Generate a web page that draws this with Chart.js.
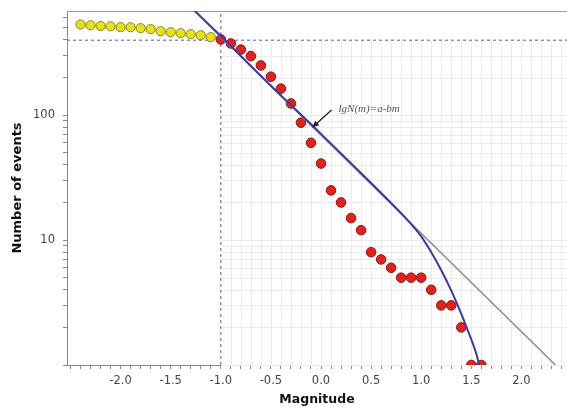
<!DOCTYPE html>
<html>
<head>
<meta charset="utf-8">
<title>Magnitude - frequency</title>
<script src="https://cdn.jsdelivr.net/npm/chart.js@4/dist/chart.umd.min.js"></script>
<style>
  html, body { margin: 0; padding: 0; background: #fff; overflow: hidden; }
  #gr { display: block; }
</style>
</head>
<body>
<canvas id="gr" width="567" height="408"></canvas>
<script>
// bins below the completeness magnitude (yellow)
const belowMag = [-2.4, -2.3, -2.2, -2.1, -2.0, -1.9, -1.8, -1.7, -1.6, -1.5, -1.4, -1.3, -1.2, -1.1];
const belowN = [532, 525, 518, 515, 506, 506, 497, 488, 470, 461, 453, 445, 436, 421];

// bins from Mc upward (red)
const aboveMag = [-1.0, -0.9, -0.8, -0.7, -0.6, -0.5, -0.4, -0.3, -0.2, -0.1, 0.0, 0.1, 0.2, 0.3,
  0.4, 0.5, 0.6, 0.7, 0.8, 0.9, 1.0, 1.1, 1.2, 1.3, 1.4, 1.5, 1.6];
const aboveN = [404, 375, 335, 297, 250, 203, 163, 124, 87, 60, 41, 25, 20, 15,
  12, 8, 7, 6, 5, 5, 5, 4, 3, 3, 2, 1, 1];

// straight G-R line lgN = a - bm (two ends)
const fitMag = [-1.4, 2.34];
const fitN = [873, 1];

// truncated fit (blue curve)
const curveMag = [-1.3, -1.0, -0.5, 0.0, 0.5, 0.7, 0.8, 0.9, 1.0, 1.1, 1.2, 1.3, 1.4, 1.5, 1.55, 1.58];
const curveN = [735, 430, 172, 70.8, 28.6, 19.8, 16.4, 13.4, 10.7, 7.98, 5.73, 3.94, 2.57, 1.6, 1.23, 1.0];

// completeness markers
const mcValue = -1.0;
const n0Value = 398;

const xTickLabels = [-2.0, -1.5, -1.0, -0.5, 0.0, 0.5, 1.0, 1.5, 2.0];
const yTickLabels = [10, 100];

const xRange = [-2.535, 2.455];
const yRange = [1, 682];

const toPoints = (xs, ys) => xs.map((v, i) => ({ x: v, y: ys[i] }));

// light grid only inside the "complete" region (m > Mc, N < N0)
const regionGrid = {
  id: 'regionGrid',
  beforeDatasetsDraw(chart) {
    const { ctx, chartArea: a, scales: { x, y } } = chart;
    const x0 = x.getPixelForValue(mcValue);
    const y0 = y.getPixelForValue(n0Value);
    ctx.save();
    ctx.strokeStyle = '#ebebeb';
    ctx.lineWidth = 1;
    ctx.beginPath();
    x.ticks.forEach(t => {
      if (t.value <= mcValue + 1e-6) return;
      const px = Math.round(x.getPixelForValue(t.value)) + 0.5;
      ctx.moveTo(px, y0);
      ctx.lineTo(px, a.bottom);
    });
    y.ticks.forEach(t => {
      if (t.value >= n0Value) return;
      const py = Math.round(y.getPixelForValue(t.value)) + 0.5;
      ctx.moveTo(x0, py);
      ctx.lineTo(a.right, py);
    });
    ctx.stroke();
    // top frame line
    ctx.strokeStyle = '#999';
    ctx.beginPath();
    ctx.moveTo(a.left, a.top + 0.5);
    ctx.lineTo(a.right, a.top + 0.5);
    ctx.stroke();
    ctx.restore();
  }
};

// "lgN(m)=a-bm" label with arrow onto the straight line
const fitLabel = {
  id: 'fitLabel',
  afterDatasetsDraw(chart) {
    const { ctx, scales: { x, y } } = chart;
    const hx = x.getPixelForValue(-0.085), hy = y.getPixelForValue(80);
    const tx = x.getPixelForValue(0.105), ty = y.getPixelForValue(110);
    ctx.save();
    ctx.strokeStyle = '#222';
    ctx.fillStyle = '#222';
    ctx.lineWidth = 1.3;
    ctx.beginPath();
    ctx.moveTo(tx, ty);
    ctx.lineTo(hx, hy);
    ctx.stroke();
    const ang = Math.atan2(hy - ty, hx - tx);
    ctx.beginPath();
    ctx.moveTo(hx, hy);
    ctx.lineTo(hx - 7 * Math.cos(ang - 0.45), hy - 7 * Math.sin(ang - 0.45));
    ctx.lineTo(hx - 7 * Math.cos(ang + 0.45), hy - 7 * Math.sin(ang + 0.45));
    ctx.closePath();
    ctx.fill();
    ctx.fillStyle = '#555';
    ctx.font = 'italic 11px "Liberation Serif", "DejaVu Serif", serif';
    ctx.textBaseline = 'middle';
    ctx.fillText('lgN(m)=a-bm', x.getPixelForValue(0.175), y.getPixelForValue(112));
    ctx.restore();
  }
};

const ctx = document.getElementById('gr').getContext('2d');
new Chart(ctx, {
  type: 'scatter',
  data: {
    datasets: [
      {
        label: 'fit',
        data: toPoints(fitMag, fitN),
        showLine: true,
        borderColor: '#8c8c8c',
        borderWidth: 1.5,
        pointRadius: 0,
        order: 1
      },
      {
        label: 'curve',
        data: toPoints(curveMag, curveN),
        showLine: true,
        borderColor: '#3a3aaa',
        borderWidth: 2,
        pointRadius: 0,
        cubicInterpolationMode: 'monotone',
        order: 0
      },
      {
        label: 'Mc',
        data: [{ x: mcValue, y: yRange[0] }, { x: mcValue, y: yRange[1] }],
        showLine: true,
        borderColor: '#7878a0',
        borderWidth: 1.2,
        borderDash: [3, 3],
        pointRadius: 0,
        order: 4
      },
      {
        label: 'N0',
        data: [{ x: xRange[0], y: n0Value }, { x: xRange[1], y: n0Value }],
        showLine: true,
        borderColor: '#7878a0',
        borderWidth: 1.2,
        borderDash: [3, 3],
        pointRadius: 0,
        order: 4
      },
      {
        label: 'below',
        data: toPoints(belowMag, belowN),
        backgroundColor: '#e6e21e',
        borderColor: '#8a8618',
        borderWidth: 1,
        pointRadius: 4.6,
        order: 2
      },
      {
        label: 'above',
        data: toPoints(aboveMag, aboveN),
        backgroundColor: '#e3211b',
        borderColor: '#8c1512',
        borderWidth: 1,
        pointRadius: 4.8,
        order: 2
      }
    ]
  },
  options: {
    responsive: false,
    animation: false,
    devicePixelRatio: 1,
    layout: { autoPadding: false, padding: { top: 11, right: 0, bottom: 0, left: 0 } },
    plugins: {
      legend: { display: false },
      tooltip: { enabled: false }
    },
    scales: {
      x: {
        type: 'linear',
        min: xRange[0],
        max: xRange[1],
        afterBuildTicks: axis => {
          const t = [];
          for (let k = -25; k <= 24; k++) t.push({ value: k / 10 });
          axis.ticks = t;
        },
        afterFit: axis => {
          axis.height = 43;
          axis.paddingLeft = 0;
          axis.paddingRight = 0;
        },
        grid: { drawOnChartArea: false, tickLength: 4, color: '#888' },
        border: { color: '#888' },
        ticks: {
          autoSkip: false,
          maxRotation: 0,
          padding: 5,
          color: '#444',
          font: { family: 'DejaVu Sans', size: 11.5 },
          callback: v => {
            const hit = xTickLabels.find(l => Math.abs(l - v) < 1e-6);
            return hit === undefined ? '' : hit.toFixed(1);
          }
        },
        title: {
          display: true,
          text: 'Magnitude',
          color: '#111',
          padding: { top: 0, bottom: 1 },
          font: { family: 'DejaVu Sans', size: 12.5, weight: 'bold' }
        }
      },
      y: {
        type: 'logarithmic',
        min: yRange[0],
        max: yRange[1],
        afterBuildTicks: axis => {
          const t = [];
          [1, 10, 100].forEach(d => {
            for (let k = 1; k <= 9; k++) if (d * k <= yRange[1]) t.push({ value: d * k });
          });
          axis.ticks = t;
        },
        afterFit: axis => {
          axis.width = 67;
          axis.paddingTop = 0;
          axis.paddingBottom = 0;
        },
        grid: { drawOnChartArea: false, tickLength: 4, color: '#888' },
        border: { color: '#888' },
        ticks: {
          autoSkip: false,
          padding: 8,
          color: '#444',
          font: { family: 'DejaVu Sans', size: 11.5 },
          callback: v => yTickLabels.includes(v) ? String(v) : ''
        },
        title: {
          display: true,
          text: 'Number of events',
          color: '#111',
          padding: { top: 10, bottom: 0 },
          font: { family: 'DejaVu Sans', size: 13, weight: 'bold' }
        }
      }
    }
  },
  plugins: [regionGrid, fitLabel]
});
</script>
</body>
</html>
